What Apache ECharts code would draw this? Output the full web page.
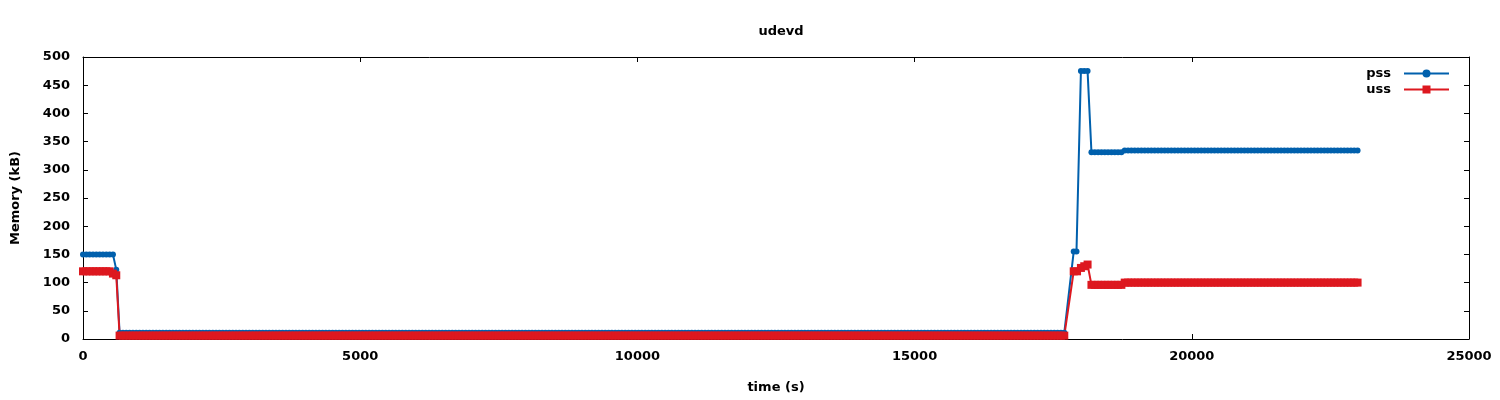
<!DOCTYPE html>
<html>
<head>
<meta charset="utf-8">
<script src="https://cdn.jsdelivr.net/npm/echarts@6/dist/echarts.min.js"></script>
<style>
  html, body { margin: 0; padding: 0; background: #fff; }
  #chart { width: 1500px; height: 400px; }
</style>
</head>
<body>
<div id="chart"></div>
<script>
// ---- data ----
const titleText = 'udevd';
const xAxisName = 'time (s)';
const yAxisName = 'Memory (kB)';
const seriesNames = ['pss', 'uss'];

// logging step in seconds; runs are [firstTime, lastTime, valueKB] sampled every STEP s
const STEP = 60;
const pssRuns = [
  [0, 540, 150],
  [600, 600, 123],
  [660, 17700, 11],
  [17870, 17870, 155],
  [17920, 17920, 155],
  [18000, 18120, 475],
  [18190, 18730, 331],
  [18790, 23000, 334]
];
const ussRuns = [
  [0, 480, 120],
  [540, 540, 116],
  [600, 600, 113],
  [660, 17700, 6],
  [17870, 17930, 120],
  [18000, 18000, 126],
  [18060, 18060, 129],
  [18120, 18120, 132],
  [18190, 18730, 96],
  [18790, 23000, 100]
];

const xMin = 0, xMax = 25000, xStep = 5000;
const yMin = 0, yMax = 500, yStep = 50;

function expandRuns(runs) {
  const out = [];
  for (const [t0, t1, v] of runs) {
    for (let t = t0; t <= t1; t += STEP) out.push([t, v]);
  }
  return out;
}

const FONT = 'DejaVu Sans';
const txt = { fontFamily: FONT, fontSize: 13, fontWeight: 'bold', color: '#000' };

const axisLine = { show: true, onZero: false, lineStyle: { color: '#000', width: 1 } };
const axisTick = { show: true, inside: true, length: 5, lineStyle: { color: '#000', width: 1 } };

const chart = echarts.init(document.getElementById('chart'), null, { renderer: 'canvas' });
chart.setOption({
  animation: false,
  backgroundColor: '#fff',
  title: {
    text: titleText,
    left: 776,
    top: 20,
    textAlign: 'center',
    textStyle: Object.assign({}, txt)
  },
  legend: {
    data: seriesNames,
    orient: 'vertical',
    align: 'right',
    right: 45,
    top: 62,
    itemWidth: 45,
    itemHeight: 10,
    itemGap: 3,
    textStyle: Object.assign({ padding: [0, 8, 0, 0] }, txt)
  },
  grid: { left: 83, right: 31, top: 57, bottom: 61, containLabel: false },
  xAxis: [
    {
      type: 'value', position: 'bottom', min: xMin, max: xMax, interval: xStep,
      name: xAxisName, nameLocation: 'middle', nameGap: 42,
      nameTextStyle: Object.assign({}, txt),
      axisLine: axisLine, axisTick: axisTick,
      axisLabel: Object.assign({ margin: 11, formatter: v => String(v) }, txt),
      splitLine: { show: false }
    },
    {
      type: 'value', position: 'top', min: xMin, max: xMax, interval: xStep,
      axisLine: axisLine, axisTick: axisTick,
      axisLabel: { show: false }, splitLine: { show: false }
    }
  ],
  yAxis: [
    {
      type: 'value', position: 'left', min: yMin, max: yMax, interval: yStep,
      name: yAxisName, nameLocation: 'middle', nameGap: 61, nameRotate: 90,
      nameTextStyle: Object.assign({}, txt),
      axisLine: axisLine, axisTick: axisTick,
      axisLabel: Object.assign({ margin: 13 }, txt),
      splitLine: { show: false }
    },
    {
      type: 'value', position: 'right', min: yMin, max: yMax, interval: yStep,
      axisLine: axisLine, axisTick: axisTick,
      axisLabel: { show: false }, splitLine: { show: false }
    }
  ],
  series: [
    {
      name: seriesNames[0], type: 'line', xAxisIndex: 0, yAxisIndex: 0,
      data: expandRuns(pssRuns),
      color: '#0060ad',
      lineStyle: { width: 2, color: '#0060ad' },
      itemStyle: { color: '#0060ad' },
      symbol: 'circle', symbolSize: 6,
      showSymbol: true, showAllSymbol: true,
      emphasis: { disabled: true }
    },
    {
      name: seriesNames[1], type: 'line', xAxisIndex: 0, yAxisIndex: 0,
      data: expandRuns(ussRuns),
      color: '#dd181f',
      lineStyle: { width: 2, color: '#dd181f' },
      itemStyle: { color: '#dd181f' },
      symbol: 'rect', symbolSize: 8,
      showSymbol: true, showAllSymbol: true,
      emphasis: { disabled: true }
    }
  ]
});
</script>
</body>
</html>
